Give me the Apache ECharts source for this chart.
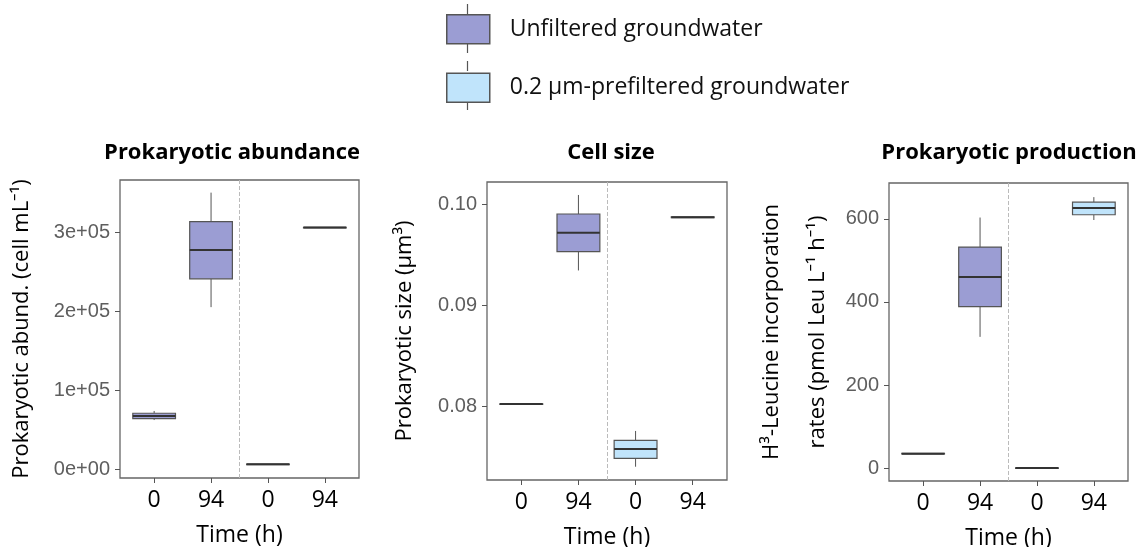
<!DOCTYPE html>
<html><head><meta charset="utf-8">
<script src="https://cdn.jsdelivr.net/npm/echarts@6/dist/echarts.min.js"></script>
<style>html,body{margin:0;padding:0;background:#fff}#c{width:1148px;height:547px}</style>
</head><body><div id="c"></div>
<script>
// ---- data ----
const categories = ['0', '94', '0', '94'];
const groups = ['Unfiltered groundwater', '0.2 µm-prefiltered groundwater'];
const xTitle = 'Time (h)';
const panelTitles = ['Prokaryotic abundance', 'Cell size', 'Prokaryotic production'];
const yTitles = ['Prokaryotic abund. (cell mL\u207B\u00B9)', 'Prokaryotic size (\u00B5m\u00B3)', 'H\u00B3-Leucine incorporation\nrates (pmol Leu L\u207B\u00B9 h\u207B\u00B9)'];
// box stats: [min, q1, median, q3, max]
const abundanceUnfiltered = [[62000, 63700, 67000, 70600, 73500], [205000, 240800, 277200, 313400, 350000]];
const abundancePrefiltered = [[5600, 5850, 6000, 6150, 6400], [305500, 305650, 305800, 305950, 306100]];
const sizeUnfiltered = [[0.08025, 0.08026, 0.08027, 0.08028, 0.08029], [0.09344, 0.09529, 0.09716, 0.09901, 0.10089]];
const sizePrefiltered = [[0.07407, 0.07490, 0.07582, 0.07668, 0.07760], [0.09862, 0.09864, 0.09868, 0.09872, 0.09875]];
const productionUnfiltered = [[34, 34.6, 35.2, 35.8, 36.5], [316, 388.7, 460, 531.8, 603]];
const productionPrefiltered = [[0, 0.4, 0.8, 1.2, 1.6], [597, 609.6, 625.8, 640, 652]];
const yTicks1 = [0, 100000, 200000, 300000];
const yTickLabels1 = ['0e+00', '1e+05', '2e+05', '3e+05'];
const yTicks2 = [0.08, 0.09, 0.10];
const yTickLabels2 = ['0.08', '0.09', '0.10'];
const yTicks3 = [0, 200, 400, 600];
const yTickLabels3 = ['0', '200', '400', '600'];

// ---- styling ----
const colors = ['#9b9dd3', '#c0e4fb'];
const borderCol = '#555';
const medianCol = '#333';
const sansFont = '"Open Sans", "Noto Sans", sans-serif';
const tickFont = '"Liberation Sans", Arial, sans-serif';

const panels = [
  {grid: {left: 120, top: 180, width: 239, height: 298}, y: [-11400, 366000], ticks: yTicks1, labels: yTickLabels1, unf: abundanceUnfiltered, pre: abundancePrefiltered, nameGap: 75, titleX: 232},
  {grid: {left: 487, top: 182, width: 240, height: 298}, y: [0.07276, 0.10217], ticks: yTicks2, labels: yTickLabels2, unf: sizeUnfiltered, pre: sizePrefiltered, nameGap: 59, titleX: 611},
  {grid: {left: 889, top: 183, width: 239, height: 298}, y: [-30.6, 686], ticks: yTicks3, labels: yTickLabels3, unf: productionUnfiltered, pre: productionPrefiltered, nameGap: 48, titleX: 1009}
];

function toItems(stats, startCat) {
  return stats.map((s, i) => [startCat + i + 1].concat(s));
}

function renderBox(params, api) {
  const x = api.value(0);
  const mn = api.coord([x, api.value(1)]);
  const q1 = api.coord([x, api.value(2)]);
  const md = api.coord([x, api.value(3)]);
  const q3 = api.coord([x, api.value(4)]);
  const mx = api.coord([x, api.value(5)]);
  const w = api.size([0.75, 0])[0];
  const cx = mn[0];
  const fill = api.visual('color');
  return {
    type: 'group',
    children: [
      {type: 'line', shape: {x1: cx, y1: mx[1], x2: cx, y2: q3[1]}, style: {stroke: borderCol, lineWidth: 1}},
      {type: 'line', shape: {x1: cx, y1: q1[1], x2: cx, y2: mn[1]}, style: {stroke: borderCol, lineWidth: 1}},
      {type: 'rect', shape: {x: cx - w / 2, y: q3[1], width: w, height: Math.max(q1[1] - q3[1], 0.5)}, style: {fill: fill, stroke: borderCol, lineWidth: 1.2}},
      {type: 'line', shape: {x1: cx - w / 2, y1: md[1], x2: cx + w / 2, y2: md[1]}, style: {stroke: medianCol, lineWidth: 2}}
    ]
  };
}

const grids = [], xAxes = [], yAxes = [], series = [], titles = [];
panels.forEach((p, i) => {
  grids.push(Object.assign({show: true, borderColor: '#666', borderWidth: 1.3, backgroundColor: 'transparent',
    containLabel: false, outerBoundsMode: 'none'}, p.grid));
  titles.push({text: panelTitles[i], left: p.titleX, top: 142, textAlign: 'center', padding: 0,
    textStyle: {fontFamily: sansFont, fontWeight: 'bold', fontSize: 22, color: '#000'}});
  xAxes.push({type: 'value', gridIndex: i, min: 0.4, max: 4.6,
    name: xTitle, nameLocation: 'middle', nameGap: 46,
    nameTextStyle: {fontFamily: sansFont, fontSize: 23, color: '#000'},
    axisLine: {show: false, onZero: false}, splitLine: {show: false},
    axisTick: {show: true, length: 5, lineStyle: {color: '#555'}, customValues: [1, 2, 3, 4]},
    axisLabel: {customValues: [1, 2, 3, 4], formatter: v => categories[Math.round(v) - 1],
      fontFamily: sansFont, fontSize: 23, color: '#000', margin: 11}});
  yAxes.push({type: 'value', gridIndex: i, min: p.y[0], max: p.y[1],
    name: yTitles[i], nameLocation: 'middle', nameGap: p.nameGap,
    nameTextStyle: {fontFamily: sansFont, fontSize: 22, color: '#000', lineHeight: 46},
    axisLine: {show: false, onZero: false}, splitLine: {show: false},
    axisTick: {show: true, length: 5, lineStyle: {color: '#555'}, customValues: p.ticks},
    axisLabel: {customValues: p.ticks, formatter: v => p.labels[p.ticks.findIndex(t => Math.abs(t - v) < 1e-9 * Math.max(1, Math.abs(t)))],
      fontFamily: tickFont, fontSize: 20, color: '#5e5e5e', margin: 10}});
  series.push({type: 'custom', name: groups[0], xAxisIndex: i, yAxisIndex: i,
    itemStyle: {color: colors[0]}, renderItem: renderBox,
    encode: {x: 0, y: [1, 2, 3, 4, 5]}, data: toItems(p.unf, 0),
    markLine: {silent: true, symbol: ['none', 'none'], label: {show: false},
      lineStyle: {type: 'dashed', color: '#bbb', width: 1}, data: [{xAxis: 2.5}]}});
  series.push({type: 'custom', name: groups[1], xAxisIndex: i, yAxisIndex: i,
    itemStyle: {color: colors[1]}, renderItem: renderBox,
    encode: {x: 0, y: [1, 2, 3, 4, 5]}, data: toItems(p.pre, 2)});
});

const chart = echarts.init(document.getElementById('c'), null, {renderer: 'canvas'});
chart.setOption({
  animation: false,
  backgroundColor: '#fff',
  title: titles,
  legend: {orient: 'vertical', left: 446, top: 14, padding: 0, itemWidth: 43, itemHeight: 29, itemGap: 28,
    icon: 'rect', selectedMode: false,
    textStyle: {fontFamily: sansFont, fontSize: 23, color: '#111', padding: [0, 0, 0, 15]},
    data: groups.map((g, k) => ({name: g, itemStyle: {color: colors[k], borderColor: borderCol, borderWidth: 1.5}}))},
  graphic: [0, 1].map(k => ({type: 'group', silent: true, children: [
    {type: 'line', shape: {x1: 467.5, y1: 4 + k * 57, x2: 467.5, y2: 14 + k * 57}, style: {stroke: borderCol, lineWidth: 1.2}},
    {type: 'line', shape: {x1: 467.5, y1: 43 + k * 57, x2: 467.5, y2: 53 + k * 57}, style: {stroke: borderCol, lineWidth: 1.2}},
    {type: 'line', shape: {x1: 446, y1: 28.5 + k * 57, x2: 489, y2: 28.5 + k * 57}, style: {stroke: borderCol, lineWidth: 1.5}}
  ]})),
  grid: grids, xAxis: xAxes, yAxis: yAxes, series: series
});
</script></body></html>
